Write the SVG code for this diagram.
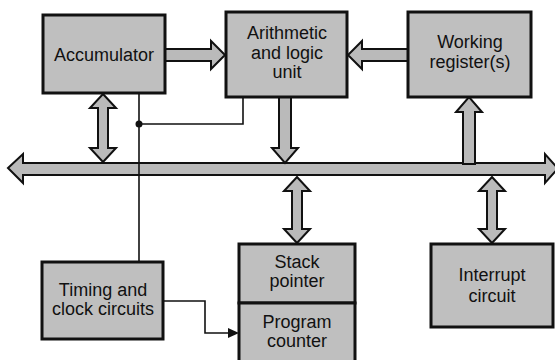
<svg xmlns="http://www.w3.org/2000/svg" width="555" height="360" viewBox="0 0 555 360">
<style>
.box{fill:#bfbfbf;stroke:#111;stroke-width:3}
.arr{fill:#bababa;stroke:#111;stroke-width:2;stroke-linejoin:miter}
.ln{fill:none;stroke:#111;stroke-width:1.6}
.t{font-family:"Liberation Sans",Arial,sans-serif;font-size:18px;fill:#111;text-anchor:middle}
</style>
<rect width="555" height="360" fill="#fff"/>
<g id="connectors">
<polygon class="arr" points="8,168 23,154 23,163 545,163 545,154 558,168.5 545,183 545,175 23,175 23,183"/>
<polygon class="arr" points="165,49 211,49 211,41 225,55 211,69 211,61 165,61"/>
<polygon class="arr" points="408,49 362,49 362,41 348,55 362,69 362,61 408,61"/>
<polygon class="arr" points="103,94 116,108 108,108 108,148 116,148 103,162 90,148 98,148 98,108 90,108"/>
<polygon class="arr" points="279,97 291,97 291,148 298,148 285,163 272,148 279,148"/>
<polygon class="arr" points="463,164 463,112 456,112 469,97 482,112 475,112 475,164"/>
<polygon class="arr" points="297,177 310,191 302,191 302,229 310,229 297,243 284,229 292,229 292,191 284,191"/>
<polygon class="arr" points="492,177 505,191 497,191 497,229 505,229 492,243 479,229 487,229 487,191 479,191"/>
<polyline class="ln" points="139,93 139,262"/>
<polyline class="ln" points="139,124 243,124 243,97"/>
<circle cx="139" cy="124" r="3.5" fill="#111"/>
<polyline class="ln" points="163,301 205,301 205,333 230,333"/>
<polygon points="239,333 228,328 228,338" fill="#111"/>
</g>
<g id="accumulator">
<rect class="box" x="43" y="15" width="122" height="78"/>
<text class="t" x="104" y="61">Accumulator</text>
</g>
<g id="alu">
<rect class="box" x="226" y="12" width="121" height="85"/>
<text class="t" x="287" y="39">Arithmetic</text>
<text class="t" x="287" y="59">and logic</text>
<text class="t" x="287" y="78">unit</text>
</g>
<g id="working">
<rect class="box" x="408" y="12" width="123" height="85"/>
<text class="t" x="470" y="48">Working</text>
<text class="t" x="470" y="68">register(s)</text>
</g>
<g id="timing">
<rect class="box" x="42" y="262" width="121" height="77"/>
<text class="t" x="103" y="296">Timing and</text>
<text class="t" x="103" y="315">clock circuits</text>
</g>
<g id="stack">
<rect class="box" x="239" y="244" width="116" height="59"/>
<text class="t" x="297" y="268">Stack</text>
<text class="t" x="297" y="287">pointer</text>
</g>
<g id="program">
<rect class="box" x="239" y="303" width="116" height="60"/>
<text class="t" x="297" y="328">Program</text>
<text class="t" x="297" y="347">counter</text>
</g>
<g id="interrupt">
<rect class="box" x="431" y="244" width="122" height="83"/>
<text class="t" x="492" y="281">Interrupt</text>
<text class="t" x="492" y="302">circuit</text>
</g>
</svg>
